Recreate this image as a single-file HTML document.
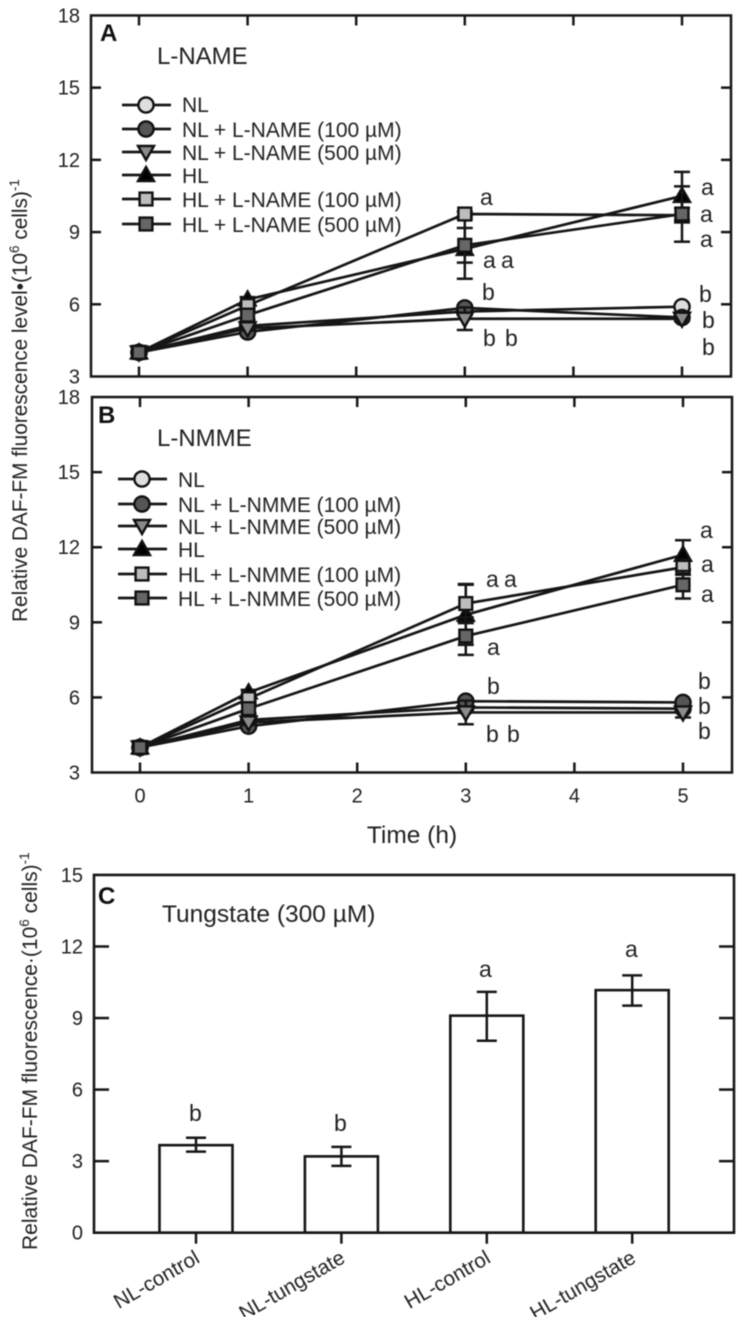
<!DOCTYPE html>
<html lang="en">
<head>
<meta charset="utf-8">
<title>DAF-FM fluorescence panels</title>
<style>
html,body{margin:0;padding:0;background:#fff;}
svg{display:block;filter:blur(0.45px);}
text{font-family:"Liberation Sans",sans-serif;fill:#222;font-size:20px;}
text.sig{font-size:23px;}
text.leg{font-size:21px;}
text.ttl{font-size:24px;}
text.pl{font-weight:bold;font-size:24px;fill:#111;}
</style>
</head>
<body>
<svg id="fig" width="739" height="1317" viewBox="0 0 739 1317" xmlns="http://www.w3.org/2000/svg">
<rect width="739" height="1317" fill="#fff"/>
<g id="layer-a"></g>
<g id="layer-b"></g>
<g id="layer-c"></g>

<text class="pl" x="100" y="41">A</text>
<text class="ttl" x="157" y="64">L-NAME</text>
<text class="leg" x="182" y="112">NL</text>
<text class="leg" x="182" y="137">NL + L-NAME (100 µM)</text>
<text class="leg" x="182" y="160">NL + L-NAME (500 µM)</text>
<text class="leg" x="182" y="183">HL</text>
<text class="leg" x="182" y="207">HL + L-NAME (100 µM)</text>
<text class="leg" x="182" y="232">HL + L-NAME (500 µM)</text>

<g>
<text class="sig" x="480" y="205">a</text>
<text class="sig" x="483" y="268">a</text><text class="sig" x="501" y="268">a</text>
<text class="sig" x="482" y="300">b</text>
<text class="sig" x="483" y="346">b</text><text class="sig" x="505" y="346">b</text>
<text class="sig" x="701" y="195">a</text><text class="sig" x="700" y="222">a</text><text class="sig" x="700" y="247">a</text>
<text class="sig" x="699" y="302">b</text><text class="sig" x="702" y="328">b</text><text class="sig" x="702" y="355">b</text>
</g>

<text class="pl" x="98" y="423">B</text>
<text class="ttl" x="157" y="446">L-NMME</text>
<text class="leg" x="178" y="487">NL</text>
<text class="leg" x="178" y="512">NL + L-NMME (100 µM)</text>
<text class="leg" x="178" y="534">NL + L-NMME (500 µM)</text>
<text class="leg" x="178" y="557">HL</text>
<text class="leg" x="178" y="582">HL + L-NMME (100 µM)</text>
<text class="leg" x="178" y="606">HL + L-NMME (500 µM)</text>

<g>
<text class="sig" x="486" y="587">a</text><text class="sig" x="504" y="587">a</text>
<text class="sig" x="487" y="655">a</text>
<text class="sig" x="487" y="694">b</text>
<text class="sig" x="486" y="742">b</text><text class="sig" x="507" y="742">b</text>
<text class="sig" x="700" y="538">a</text><text class="sig" x="701" y="572">a</text><text class="sig" x="701" y="602">a</text>
<text class="sig" x="698" y="689">b</text><text class="sig" x="698" y="714">b</text><text class="sig" x="698" y="739">b</text>
</g>

<text x="412" y="843" text-anchor="middle" style="font-size:24.5px">Time (h)</text>

<text transform="translate(27,622) rotate(-90)" style="font-size:20.8px">Relative DAF-FM fluorescence level•(10<tspan dy="-8" style="font-size:13.5px">6</tspan><tspan dy="8"> cells)</tspan><tspan dy="-8" style="font-size:13.5px">-1</tspan></text>

<text class="pl" x="98" y="904">C</text>
<text class="ttl" x="162" y="922" style="font-size:24.5px">Tungstate (300 µM)</text>
<text transform="translate(37,1250) rotate(-90)" style="font-size:21px">Relative DAF-FM fluorescence·(10<tspan dy="-8" style="font-size:13.5px">6</tspan><tspan dy="8"> cells)</tspan><tspan dy="-8" style="font-size:13.5px">-1</tspan></text>

<g>
<text class="sig" x="189" y="1121">b</text>
<text class="sig" x="334" y="1131">b</text>
<text class="sig" x="479" y="977">a</text>
<text class="sig" x="625" y="957">a</text>
</g>
</svg>

<script>
const timeTicks = [0, 1, 2, 3, 4, 5];
const timeCategories = [0, 1, 3, 5];
const yTicksLine = [3, 6, 9, 12, 15, 18];
const yTicksBar = [0, 3, 6, 9, 12, 15];

const seriesKeys = ['nl', 'nl-100', 'nl-500', 'hl', 'hl-100', 'hl-500'];

const nameA_NL = [4, 5.1, 5.7, 5.9];
const nameA_NL100 = [4, 4.85, 5.85, 5.45];
const nameA_NL500 = [4, 5.0, 5.4, 5.4];
const nameA_HL = [4, 6.2, 8.3, 10.5];
const nameA_HL100 = [4, 5.95, 9.75, 9.7];
const nameA_HL500 = [4, 5.55, 8.45, 9.75];

const nameErr_NL = [0, 0.1, 0.15, 0.1];
const nameErr_NL100 = [0, 0.1, 0.1, 0.1];
const nameErr_NL500 = [0, 0.1, 0.47, 0.1];
const nameErr_HL = [0, 0.1, 1.24, 1.0];
const nameErr_HL100 = [0, 0.1, 0.1, 0.3];
const nameErr_HL500 = [0, 0.2, 0.72, 1.15];

const nmmeB_NL = [4, 5.1, 5.6, 5.55];
const nmmeB_NL100 = [4, 4.85, 5.85, 5.8];
const nmmeB_NL500 = [4, 5.0, 5.4, 5.4];
const nmmeB_HL = [4, 6.2, 9.3, 11.7];
const nmmeB_HL100 = [4, 5.95, 9.75, 11.2];
const nmmeB_HL500 = [4, 5.55, 8.45, 10.5];

const nmmeErr_NL = [0, 0.1, 0.15, 0.1];
const nmmeErr_NL100 = [0, 0.1, 0.1, 0.1];
const nmmeErr_NL500 = [0, 0.1, 0.47, 0.2];
const nmmeErr_HL = [0, 0.1, 1.2, 0.58];
const nmmeErr_HL100 = [0, 0.1, 0.78, 0.3];
const nmmeErr_HL500 = [0, 0.2, 0.75, 0.55];

const barCategories = ['NL-control', 'NL-tungstate', 'HL-control', 'HL-tungstate'];
const barValues = [3.67, 3.2, 9.1, 10.17];
const barErrUp = [0.31, 0.4, 1.0, 0.62];
const barErrDown = [0.27, 0.4, 1.05, 0.65];

const NS = 'http://www.w3.org/2000/svg';
const INK = '#161616';
const seriesFill = {'nl':'#dedede','nl-100':'#555','nl-500':'#8a8a8a','hl':'#000','hl-100':'#bdbdbd','hl-500':'#666'};
const seriesShape = {'nl':'circle','nl-100':'circle','nl-500':'down','hl':'up','hl-100':'square','hl-500':'square'};

function mk(parent, tag, attrs) {
  const el = document.createElementNS(NS, tag);
  for (const k in attrs) el.setAttribute(k, attrs[k]);
  parent.appendChild(el);
  return el;
}
function seg(parent, x1, y1, x2, y2, w) {
  return mk(parent, 'line', {x1, y1, x2, y2, stroke: INK, 'stroke-width': w || 2.5});
}
function marker(parent, kind, x, y, fill) {
  const s = {fill, stroke: '#111', 'stroke-width': 2.4};
  if (kind === 'circle') return mk(parent, 'circle', Object.assign({cx: x, cy: y, r: 7.6}, s));
  if (kind === 'square') return mk(parent, 'rect', Object.assign({x: x - 6.4, y: y - 6.4, width: 12.8, height: 12.8}, s));
  const d = kind === 'up' ? 1 : -1;
  return mk(parent, 'polygon', Object.assign({points: `${x},${y - 8 * d} ${x + 8},${y + 6 * d} ${x - 8},${y + 6 * d}`}, s));
}

function linePanel(cfg) {
  const g = document.getElementById(cfg.layer);
  const X = t => cfg.x0 + t * cfg.xStep;
  const Y = v => cfg.yBase - (v - 3) * cfg.yStep;
  const top = Y(18), bot = Y(3);

  const frame = mk(g, 'rect', {x: cfg.left, y: top, width: cfg.right - cfg.left, height: bot - top, fill: 'none', stroke: INK, 'stroke-width': 2.5});
  
  

  timeTicks.forEach(t => {
    const a = seg(g, X(t), top, X(t), top + 10);
    
    
    const b = seg(g, X(t), bot, X(t), bot - 10);
    
    
    if (cfg.xLabels) {
      const l = mk(g, 'text', {x: X(t), y: bot + 30, 'text-anchor': 'middle'});
      l.textContent = String(t);
      
      
    }
  });
  yTicksLine.forEach(v => {
    if (v !== 3 && v !== 18) {
      const a = seg(g, cfg.left, Y(v), cfg.left + 10, Y(v));
      
      
      const b = seg(g, cfg.right, Y(v), cfg.right - 10, Y(v));
      
      
    }
    const l = mk(g, 'text', {x: 80, y: Y(v) + 7, 'text-anchor': 'end'});
    l.textContent = String(v);
    
    
  });

  seriesKeys.forEach((key, i) => {
    const vals = cfg.values[i], errs = cfg.errors[i];
    const sg = mk(g, 'g', {});
    
    
    const pts = timeCategories.map((t, k) => X(t) + ',' + Y(vals[k])).join(' ');
    const pl = mk(sg, 'polyline', {points: pts, fill: 'none', stroke: INK, 'stroke-width': 2.7});
    
    
    timeCategories.forEach((t, k) => {
      if (errs[k] > 0) {
        const eg = mk(sg, 'g', {});
        
        
        const hi = Y(vals[k] + errs[k]), lo = Y(vals[k] - errs[k]);
        seg(eg, X(t), hi, X(t), lo);
        seg(eg, X(t) - 8, hi, X(t) + 8, hi);
        seg(eg, X(t) - 8, lo, X(t) + 8, lo);
      }
    });
    timeCategories.forEach((t, k) => {
      const m = marker(sg, seriesShape[key], X(t), Y(vals[k]), seriesFill[key]);
      
      
    });
  });

  seriesKeys.forEach((key, i) => {
    const ly = cfg.legendY[i];
    const lg = mk(g, 'g', {});
    
    
    seg(lg, cfg.legendX - 24, ly, cfg.legendX + 25, ly, 2.7);
    marker(lg, seriesShape[key], cfg.legendX, ly, seriesFill[key]);
  });
}

linePanel({
  layer: 'layer-a', left: 91, right: 731, x0: 139, xStep: 108.6, yBase: 376.5, yStep: 24.07,
  values: [nameA_NL, nameA_NL100, nameA_NL500, nameA_HL, nameA_HL100, nameA_HL500],
  errors: [nameErr_NL, nameErr_NL100, nameErr_NL500, nameErr_HL, nameErr_HL100, nameErr_HL500],
  legendX: 146, legendY: [105, 129, 152, 175, 199, 224], xLabels: false
});
linePanel({
  layer: 'layer-b', left: 92, right: 732, x0: 140, xStep: 108.6, yBase: 772.5, yStep: 25.03,
  values: [nmmeB_NL, nmmeB_NL100, nmmeB_NL500, nmmeB_HL, nmmeB_HL100, nmmeB_HL500],
  errors: [nmmeErr_NL, nmmeErr_NL100, nmmeErr_NL500, nmmeErr_HL, nmmeErr_HL100, nmmeErr_HL500],
  legendX: 142, legendY: [479, 504, 526, 549, 574, 598], xLabels: true
});

(function barPanel() {
  const g = document.getElementById('layer-c');
  const left = 94, right = 734, first = 196, step = 145.4, halfW = 36.5;
  const Y = v => 1232.7 - v * 23.85;
  const X = i => first + i * step;

  barCategories.forEach((name, i) => {
    const bg = mk(g, 'g', {});
    
    
    const r = mk(bg, 'rect', {x: X(i) - halfW, y: Y(barValues[i]), width: halfW * 2, height: Y(0) - Y(barValues[i]), fill: '#fff', stroke: INK, 'stroke-width': 2.6});
    
    
    const hi = Y(barValues[i] + barErrUp[i]), lo = Y(barValues[i] - barErrDown[i]);
    const eg = mk(bg, 'g', {});
    
    
    seg(eg, X(i), hi, X(i), lo);
    seg(eg, X(i) - 10, hi, X(i) + 10, hi);
    seg(eg, X(i) - 10, lo, X(i) + 10, lo);
    const t = seg(g, X(i), Y(0), X(i), Y(0) + 11);
    
    
    const l = mk(g, 'text', {transform: `translate(${X(i) + 5},${Y(0) + 29}) rotate(-30)`, 'text-anchor': 'end', style: 'font-size:20.6px'});
    l.textContent = name;
    
    
  });

  const fr = mk(g, 'rect', {x: left, y: Y(15), width: right - left, height: Y(0) - Y(15), fill: 'none', stroke: INK, 'stroke-width': 2.6});
  
  

  yTicksBar.forEach(v => {
    if (v !== 0 && v !== 15) {
      const a = seg(g, left, Y(v), left + 15, Y(v));
      
      
      const b = seg(g, right, Y(v), right - 15, Y(v));
      
      
    }
    const l = mk(g, 'text', {x: 83, y: Y(v) + 7, 'text-anchor': 'end'});
    l.textContent = String(v);
    
    
  });
})();
</script>
</body>
</html>
